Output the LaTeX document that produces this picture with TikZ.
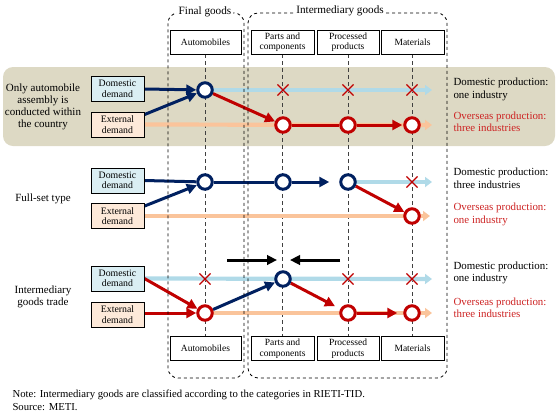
\documentclass[tikz,border=0pt]{standalone}
\usepackage{fontspec}
\setmainfont{Liberation Serif}
\usetikzlibrary{arrows.meta,shapes.misc,backgrounds}
\definecolor{navy}{RGB}{0,32,96}
\definecolor{dred}{RGB}{192,0,0}
\definecolor{lblue}{RGB}{176,218,232}
\definecolor{lorange}{RGB}{250,196,155}
\definecolor{dombg}{RGB}{218,238,243}
\definecolor{extbg}{RGB}{253,233,217}
\definecolor{beige}{RGB}{221,217,196}
\definecolor{txtred}{RGB}{205,35,35}

\begin{document}
\begin{tikzpicture}[
  x=1pt, y=-1pt,
  hdr/.style={
    draw,
    line width=0.8pt,
    align=center,
    inner sep=1pt,
    font=\fontsize{9.5}{10.5}\selectfont,
    minimum height=24pt
  },
  demand/.style={
    draw,
    line width=0.8pt,
    align=center,
    inner sep=1pt,
    font=\fontsize{9.8}{10.5}\selectfont,
    minimum width=53pt,
    minimum height=25pt
  },
  dom/.style={demand, fill=dombg},
  ext/.style={demand, fill=extbg},
  grp/.style={draw, dashed, line width=0.8pt, rounded corners=10pt},
  grplabel/.style={fill=white, inner sep=2pt, font=\fontsize{11.2}{13}\selectfont},
  rowlabel/.style={align=center, font=\fontsize{11}{12}\selectfont},
  result/.style={anchor=west, align=left, font=\fontsize{10.9}{12.5}\selectfont},
  col/.style={draw=black!75, line width=0.8pt, dash pattern=on 4pt off 3pt},
  bcirc/.style={circle, draw=navy, fill=white, line width=3pt,
    minimum size=14.5pt, inner sep=0pt},
  rcirc/.style={bcirc, draw=dred},
  xmark/.style={cross out, draw=dred, line width=1.1pt,
    minimum size=10pt, inner sep=0pt},
  bluearrow/.style={-{Triangle[length=10pt,width=10pt]}, navy, line width=3pt},
  redarrow/.style={-{Triangle[length=10pt,width=10pt]}, dred, line width=3pt},
  blueline/.style={navy, line width=3pt},
  redline/.style={dred, line width=3pt},
  lightblue/.style={-{Triangle[length=7pt,width=10pt]}, lblue, line width=4.2pt},
  lightorange/.style={-{Triangle[length=7pt,width=10pt]}, lorange, line width=4.2pt},
  movearrow/.style={-{Triangle[length=10pt,width=9.5pt]}, black, line width=3pt}
]
  \useasboundingbox (0,0) rectangle (556,413);

  % groups of goods
  \node[grp, minimum width=76pt, minimum height=365pt] (final) at (206,195.5) {};
  \node[grp, minimum width=199pt, minimum height=365pt] (inter) at (347.5,195.5) {};
  \node[grplabel] at (205,12) {Final goods};
  \node[grplabel] at (340,11) {Intermediary goods};

  % column headers
  \node[hdr, minimum width=71pt] (autoT) at (205.5,42) {Automobiles};
  \node[hdr, minimum width=63pt] (partT) at (282.5,42) {Parts and\\components};
  \node[hdr, minimum width=62pt] (procT) at (348,42) {Processed\\products};
  \node[hdr, minimum width=63pt] (matT) at (412.5,42) {Materials};
  \node[hdr, minimum width=71pt] (autoB) at (205.5,348.5) {Automobiles};
  \node[hdr, minimum width=63pt] (partB) at (282.5,348.5) {Parts and\\components};
  \node[hdr, minimum width=62pt] (procB) at (348,348.5) {Processed\\products};
  \node[hdr, minimum width=63pt] (matB) at (412.5,348.5) {Materials};

  % row labels
  \node[rowlabel] (lab1) at (43,107) {Only automobile\\assembly is\\conducted within\\the country};
  \node[rowlabel] (lab2) at (43,199) {Full-set type};
  \node[rowlabel] (lab3) at (43,297) {Intermediary\\goods trade};

  % demand boxes
  \node[dom] (dom1) at (117.5,89) {Domestic\\demand};
  \node[ext] (ext1) at (117.5,124.5) {External\\demand};
  \node[dom] (dom2) at (117.5,180.5) {Domestic\\demand};
  \node[ext] (ext2) at (117.5,216) {External\\demand};
  \node[dom] (dom3) at (117.5,278.5) {Domestic\\demand};
  \node[ext] (ext3) at (117.5,314.5) {External\\demand};

  % production stages
  \node[bcirc] (a1) at (205,90) {};
  \node[rcirc] (p1) at (283,125) {};
  \node[rcirc] (r1) at (348,125) {};
  \node[rcirc] (m1) at (412,125) {};
  \node[xmark] (xp1) at (283,90) {};
  \node[xmark] (xr1) at (348,90) {};
  \node[xmark] (xm1) at (412,90) {};

  \node[bcirc] (a2) at (205,182) {};
  \node[bcirc] (p2) at (283,182) {};
  \node[bcirc] (r2) at (348,182) {};
  \node[rcirc] (m2) at (412,216) {};
  \node[xmark] (xm2) at (412,182) {};

  \node[rcirc] (a3) at (205,313) {};
  \node[bcirc] (p3) at (283,279) {};
  \node[rcirc] (r3) at (348,313) {};
  \node[rcirc] (m3) at (412,313) {};
  \node[xmark] (xa3) at (205,279) {};
  \node[xmark] (xr3) at (348,279) {};
  \node[xmark] (xm3) at (412,279) {};

  % results
  \node[result] (res1) at (450,89.5) {Domestic production:\\one industry};
  \node[result, text=txtred] (res1o) at (450,122) {Overseas production:\\three industries};
  \node[result] (res2) at (450,178.5) {Domestic production:\\three industries};
  \node[result, text=txtred] (res2o) at (450,214.5) {Overseas production:\\one industry};
  \node[result] (res3) at (450,273) {Domestic production:\\one industry};
  \node[result, text=txtred] (res3o) at (450,308) {Overseas production:\\three industries};

  \node[anchor=north west, align=left, font=\fontsize{10.7}{13}\selectfont] (note) at (9,386)
    {Note: Intermediary goods are classified according to the categories in RIETI-TID.\\
     Source: METI.};

  \coordinate (e1d) at (432,90);
  \coordinate (e1e) at (432,125);
  \coordinate (e2d) at (432,182);
  \coordinate (e2e) at (430,216);
  \coordinate (e3d) at (432,279);
  \coordinate (e3e) at (432,313);
  \coordinate (s1) at (227,260);
  \coordinate (t1) at (277,260);
  \coordinate (s2) at (340,260);
  \coordinate (t2) at (290,260);

  \begin{scope}[on background layer]
    \fill[beige, rounded corners=10pt] (3,67) rectangle (555,146);

    \draw[col] (autoT) -- (autoB);
    \draw[col] (partT) -- (partB);
    \draw[col] (procT) -- (procB);
    \draw[col] (matT) -- (matB);

    \draw[lightblue] (a1.center) -- (e1d);
    \draw[lightorange] (ext1.east) -- (e1e);
    \draw[lightblue] (r2.center) -- (e2d);
    \draw[lightorange] (ext2.east) -- (e2e);
    \draw[lightblue] (dom3.east) -- (e3d);
    \draw[lightorange] (a3.center) -- (e3e);

    \draw[bluearrow] (dom1.east) -- (a1);
    \draw[bluearrow] (ext1.north east) ++(0,3) -- (a1);
    \draw[redarrow] (a1) -- (p1);
    \draw[redline] (p1) -- (r1);
    \draw[redarrow, shorten >=1pt] (r1) -- (m1);

    \draw[blueline] (dom2.east) -- (a2);
    \draw[bluearrow] (ext2.north east) ++(0,3) -- (a2);
    \draw[blueline] (a2) -- (p2);
    \draw[bluearrow, shorten >=10pt] (p2) -- (r2);
    \draw[redarrow] (r2) -- (m2);

    \draw[redarrow] (dom3.east) -- (a3);
    \draw[redarrow] (ext3.east |- a3) -- (a3);
    \draw[bluearrow] (a3) -- (p3);
    \draw[redarrow, shorten >=6pt] (p3) -- (r3);
    \draw[redarrow, shorten >=6pt] (r3) -- (m3);

    \draw[movearrow] (s1) -- (t1);
    \draw[movearrow] (s2) -- (t2);
  \end{scope}
\end{tikzpicture}
\end{document}
